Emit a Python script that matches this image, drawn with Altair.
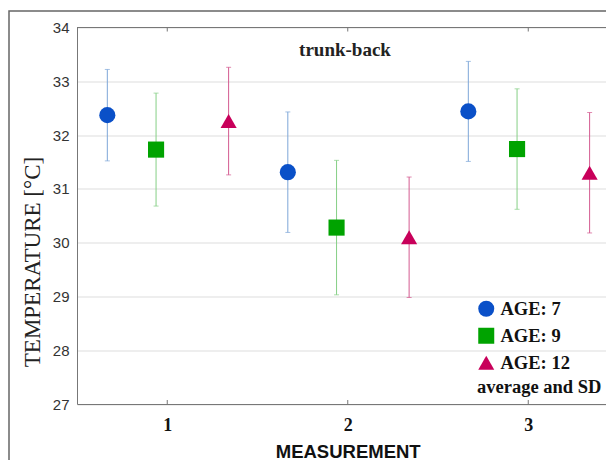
import altair as alt
import pandas as pd

# ---- data ----
measurements = [1, 2, 3]
ages = ["AGE: 7", "AGE: 9", "AGE: 12"]
mean_age7 = [32.37, 31.31, 32.44]
mean_age9 = [31.73, 30.28, 31.74]
mean_age12 = [32.26, 30.10, 31.30]
sd_age7 = [0.85, 1.12, 0.93]
sd_age9 = [1.05, 1.25, 1.12]
sd_age12 = [1.00, 1.12, 1.12]
y_ticks = [27, 28, 29, 30, 31, 32, 33, 34]
panel_title = "trunk-back"
legend_title = "average and SD"
x_title = "MEASUREMENT"
y_title = "TEMPERATURE [°C]"

# ---- layout / style ----
dodge = {"AGE: 7": -0.332, "AGE: 9": -0.062, "AGE: 12": 0.34}
marker_colors = ["#0a50c8", "#00a300", "#c8005a"]
bar_colors = ["#7ea6d8", "#86cf86", "#d45a90"]
shapes = ["circle", "square", "triangle-up"]
W, H = 529, 376.5
x_max = 0.5 + W / 180.5

rows = []
for age, means, sds in zip(ages, [mean_age7, mean_age9, mean_age12],
                           [sd_age7, sd_age9, sd_age12]):
    for m, mu, sd in zip(measurements, means, sds):
        rows.append({"age": age, "measurement": m, "mean": mu, "sd": sd})
df = pd.DataFrame(rows)
df["xpos"] = df["measurement"] + df["age"].map(dodge)
df["lo"] = df["mean"] - df["sd"]
df["hi"] = df["mean"] + df["sd"]

xscale = alt.Scale(domain=[0.5, x_max], nice=False, zero=False)
yscale = alt.Scale(domain=[27, 34], nice=False, zero=False)

x_axis = alt.Axis(values=measurements, format="d", grid=False, ticks=False, tickSize=0,
                  domainColor="#777777", domainWidth=1,
                  labelFont="Liberation Serif", labelFontWeight="bold", labelFontSize=18,
                  labelColor="#111111", labelPadding=12,
                  title=x_title, titleFont="Liberation Sans", titleFontSize=18.5,
                  titleFontWeight="bold", titleColor="#111111",
                  titleX=270.7, titleY=53, titleAlign="center", titleBaseline="alphabetic")
y_axis = alt.Axis(values=y_ticks, format="d", ticks=False, tickSize=0,
                  domainColor="#777777", domainWidth=1,
                  grid=True, gridColor="#dddddd", gridWidth=1,
                  labelFont="Liberation Sans", labelFontSize=15, labelColor="#333333",
                  labelPadding=8,
                  title=y_title, titleFont="Liberation Serif", titleFontSize=23,
                  titleFontWeight="normal", titleColor="#222222",
                  titleX=-38, titleY=234, titleAlign="center", titleBaseline="alphabetic",
                  titleAngle=270)

base = alt.Chart(df)

# error bars: one layer per age group with its own light colour
bar_layers = []
for i, (age, col) in enumerate(zip(ages, bar_colors)):
    sub = base.transform_filter(alt.datum.age == age)
    if i == 0:
        xe = alt.X("xpos:Q", scale=xscale, axis=x_axis)
        ye = alt.Y("lo:Q", scale=yscale, axis=y_axis)
    else:
        xe = alt.X("xpos:Q")
        ye = alt.Y("lo:Q")
    bar_layers.append(sub.mark_rule(strokeWidth=1, color=col).encode(x=xe, y=ye, y2="hi:Q"))
    bar_layers.append(sub.mark_tick(orient="horizontal", size=5, thickness=1, color=col)
                      .encode(x="xpos:Q", y="lo:Q"))
    bar_layers.append(sub.mark_tick(orient="horizontal", size=5, thickness=1, color=col)
                      .encode(x="xpos:Q", y="hi:Q"))

legend = alt.Legend(title=legend_title, orient="none", legendX=400, legendY=272,
                    titleOrient="bottom", titleFont="Liberation Serif", titleFontSize=18.5,
                    titleFontWeight="bold", titleColor="#111111", titlePadding=5,
                    labelFont="Liberation Serif", labelFontSize=18.5, labelFontWeight="bold",
                    labelColor="#111111", labelOffset=5, symbolSize=256,
                    symbolStrokeWidth=0, symbolOpacity=1, rowPadding=8, padding=0)

points = base.mark_point(filled=True, opacity=1, size=260, strokeWidth=0).encode(
    x="xpos:Q",
    y="mean:Q",
    color=alt.Color("age:N", scale=alt.Scale(domain=ages, range=marker_colors), legend=legend),
    shape=alt.Shape("age:N", scale=alt.Scale(domain=ages, range=shapes), legend=legend),
)

tick_df = pd.DataFrame({"measurement": measurements})
ticks_bottom = alt.Chart(tick_df).mark_rule(color="#777777").encode(
    x="measurement:Q", y=alt.value(H), y2=alt.value(H - 4))
ticks_top = alt.Chart(tick_df).mark_rule(color="#777777").encode(
    x="measurement:Q", y=alt.value(0), y2=alt.value(4))

one = pd.DataFrame({"k": [0]})
top_border = alt.Chart(one).mark_rule(color="#777777", strokeWidth=1).encode(
    x=alt.value(0), x2=alt.value(W), y=alt.value(0))
frame = alt.Chart(one).mark_rect(filled=False, stroke="#666666", strokeWidth=1.5).encode(
    x=alt.value(-68), x2=alt.value(W + 60), y=alt.value(-16.5), y2=alt.value(H + 120))
title_text = alt.Chart(one).mark_text(font="Liberation Serif", fontWeight="bold", fontSize=19,
                                      align="center", baseline="alphabetic",
                                      color="#222222").encode(
    x=alt.value(268), y=alt.value(28.5), text=alt.value(panel_title))

chart = alt.layer(*bar_layers, frame, top_border, ticks_top, ticks_bottom, points,
                  title_text).properties(
    width=W, height=H,
    autosize=alt.AutoSizeParams(type="none"),
    padding={"left": 69, "top": 19.5, "right": 0, "bottom": 56},
    background="white",
).configure_view(stroke=None)

chart.save("out.html", embed_options={"renderer": "svg", "actions": False})
